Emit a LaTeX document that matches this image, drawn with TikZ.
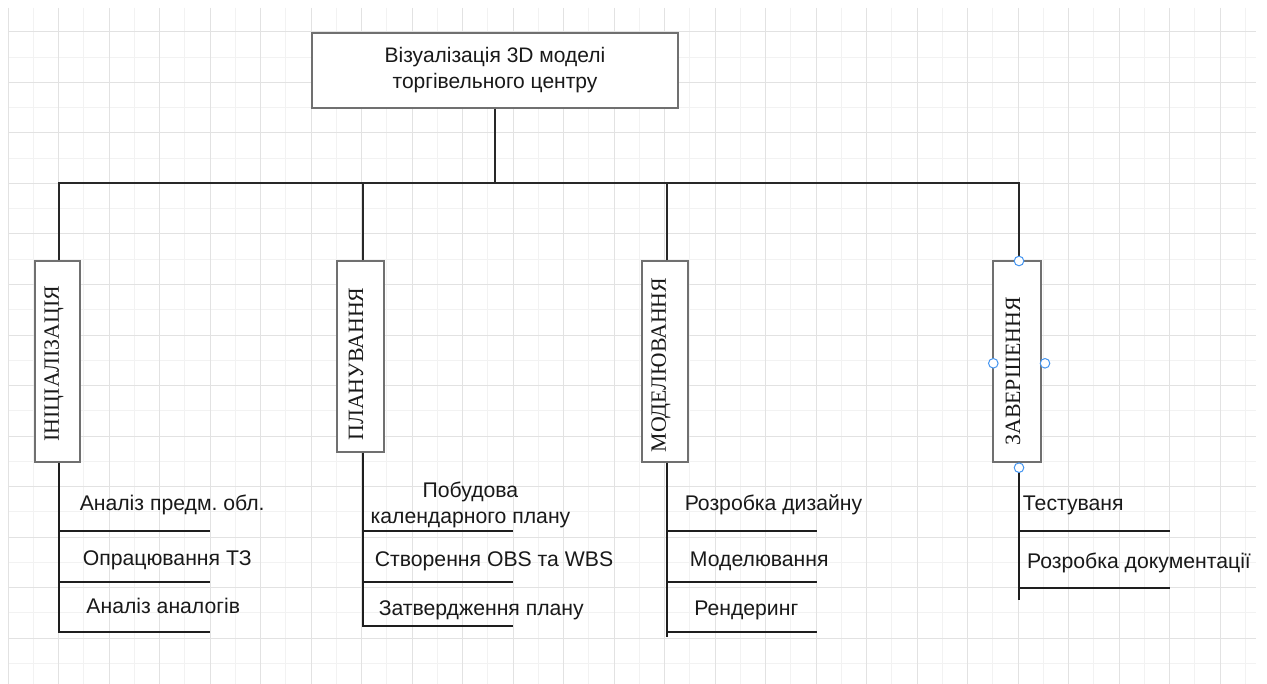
\documentclass[tikz,border=0pt]{standalone}
\usepackage{fontspec}
\setmainfont{Liberation Serif}
\newfontfamily\arialf{Liberation Sans}
\definecolor{gridminor}{RGB}{242,242,242}
\definecolor{gridmajor}{RGB}{226,226,226}
\definecolor{boxline}{RGB}{112,112,112}
\definecolor{connline}{RGB}{40,40,40}
\definecolor{spineline}{RGB}{30,30,30}
\definecolor{txt}{RGB}{25,25,25}
\definecolor{handleblue}{RGB}{70,150,240}
\frenchspacing
\begin{document}
\begin{tikzpicture}[x=0.75pt,y=-0.75pt,
  gminor/.style={draw=gridminor,line width=0.75pt},
  gmajor/.style={draw=gridmajor,line width=0.75pt},
  topbox/.style={draw=boxline,fill=white,line width=1.1pt,inner sep=0pt,align=center,
     text=txt,font=\arialf\fontsize{15.75}{19.5}\selectfont},
  phasebox/.style={draw=boxline,fill=white,line width=0.9pt,inner sep=0pt},
  phasetext/.style={rotate=90,inner sep=0pt,text=txt,font=\fontsize{16.4}{18}\selectfont},
  item/.style={anchor=base,inner sep=0pt,text=txt,align=center,
     font=\arialf\fontsize{15.9}{19.5}\selectfont},
  conn/.style={draw=connline,line width=0.8pt},
  spine/.style={draw=spineline,line width=1.5pt},
  handle/.style={circle,draw=handleblue,fill=white,line width=0.75pt,inner sep=0pt,minimum size=7.2pt}
]
\useasboundingbox (0,0) rectangle (1267,684);
\fill[white] (0,0) rectangle (1267,684);
% grid
\foreach \k in {1,3,...,49} {\draw[gminor] ({8+25.25*\k},8) -- ({8+25.25*\k},684);}
\foreach \j in {2,4,...,26} {\draw[gminor] (8,{6.75+25.25*\j}) -- (1256,{6.75+25.25*\j});}
\foreach \k in {0,2,...,48} {\draw[gmajor] ({8+25.25*\k},8) -- ({8+25.25*\k},684);}
\foreach \j in {1,3,...,25} {\draw[gmajor] (8,{6.75+25.25*\j}) -- (1256,{6.75+25.25*\j});}

% column coordinates
\coordinate (c1) at (59,0);
\coordinate (c2) at (363,0);
\coordinate (c3) at (667,0);
\coordinate (c4) at (1019,0);
\coordinate (bus) at (495,183);

% top node
\node[topbox,minimum width=366*0.75pt,minimum height=75*0.75pt] (top) at (495,70.5)
  {Візуалізація 3D моделі\\торгівельного центру};

% phase boxes
\node[phasebox,minimum width=45*0.75pt,minimum height=201*0.75pt] (p1) at (57.5,361.5) {};
\node[phasebox,minimum width=47*0.75pt,minimum height=191*0.75pt] (p2) at (360.5,356.5) {};
\node[phasebox,minimum width=46*0.75pt,minimum height=201*0.75pt] (p3) at (665,361.5) {};
\node[phasebox,minimum width=48*0.75pt,minimum height=201*0.75pt] (p4) at (1017,361.5) {};
\node[phasetext] (p1t) at (54,363.5) {ІНІЦІАЛІЗАЦІЯ};
\node[phasetext] (p2t) at (356,364) {ПЛАНУВАННЯ};
\node[phasetext] (p3t) at (661,365) {МОДЕЛЮВАННЯ};
\node[phasetext] (p4t) at (1013,371.5) {ЗАВЕРШЕННЯ};

% connectors
\draw[conn] (top.south) -- (bus);
\draw[conn] (c1 |- p1.north) -- (c1 |- bus) -- (c4 |- bus) -- (c4 |- p4.north);
\draw[conn] (c2 |- p2.north) -- (c2 |- bus);
\draw[conn] (c3 |- p3.north) -- (c3 |- bus);

% spines and underlines
\draw[spine] (c1 |- p1.south) -- (59,632) -- (210,632);
\draw[spine] (59,530.5) -- (210,530.5);
\draw[spine] (59,581.5) -- (210,581.5);

\draw[spine] (c2 |- p2.south) -- (363,625.5) -- (513,625.5);
\draw[spine] (363,531) -- (513,531);
\draw[spine] (363,582) -- (513,582);

\draw[spine] (c3 |- p3.south) -- (667,637);
\draw[spine] (667,530.5) -- (817,530.5);
\draw[spine] (667,581.5) -- (817,581.5);
\draw[spine] (667,632) -- (817,632);

\draw[spine] (c4 |- p4.south) -- (1019,599.5);
\draw[spine] (1019,530.5) -- (1170,530.5);
\draw[spine] (1019,588) -- (1170,588);

% item labels
\node[item] (i11) at (172.2,510.7) {Аналіз предм. обл.};
\node[item] (i12) at (167.2,565.7) {Опрацювання ТЗ};
\node[item] (i13) at (163.3,613) {Аналіз аналогів};

\node[item] (i21) at (470.5,523) {Побудова\\календарного плану};
\node[item] (i22) at (494,566) {Створення OBS та WBS};
\node[item] (i23) at (481.3,615) {Затвердження плану};

\node[item] (i31) at (773.5,510.7) {Розробка дизайну};
\node[item] (i32) at (759.3,566) {Моделювання};
\node[item] (i33) at (746.3,615) {Рендеринг};

\node[item] (i41) at (1073.3,510.7) {Тестуваня};
\node[item] (i42) at (1139,568) {Розробка документації};

% selection handles
\node[handle] (h1) at (1019,261) {};
\node[handle] (h2) at (993.3,363.3) {};
\node[handle] (h3) at (1045,363.3) {};
\node[handle] (h4) at (1019,467.7) {};
\end{tikzpicture}
\end{document}
